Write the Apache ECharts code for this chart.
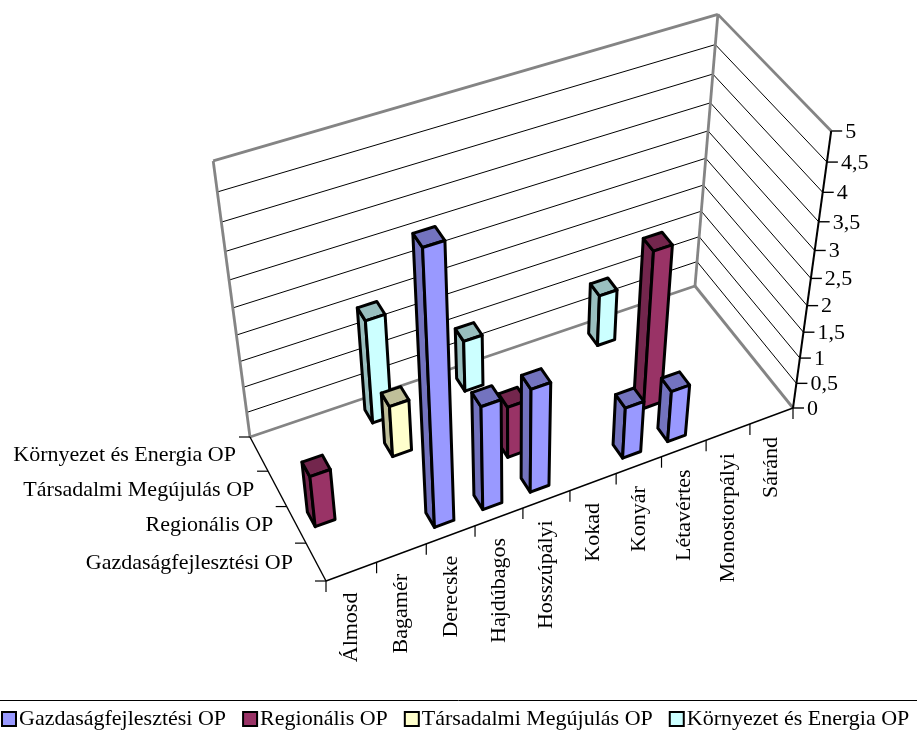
<!DOCTYPE html>
<html><head><meta charset="utf-8">
<style>html,body{margin:0;padding:0;background:#fff}#c{width:917px;height:731px}</style>
<script src="https://cdn.jsdelivr.net/npm/echarts@6/dist/echarts.min.js"></script>
</head><body><div id="c"></div>
<script>
const categories = ['Álmosd','Bagamér','Derecske','Hajdúbagos','Hosszúpályi','Kokad','Konyár','Létavértes','Monostorpályi','Sáránd'];
const seriesNames = ['Gazdaságfejlesztési OP','Regionális OP','Társadalmi Megújulás OP','Környezet és Energia OP'];
const gazdasag  = [0,0,5,2,2,0,1,1,0,0];
const regionalis= [1,0,0,0,1,0,0,3,0,0];
const tarsadalmi= [0,0,1,0,0,0,0,0,0,0];
const kornyezet = [0,0,2,0,1,0,0,1,0,0];
const seriesValues = [gazdasag,regionalis,tarsadalmi,kornyezet];
const valueTicks = ['0','0,5','1','1,5','2','2,5','3','3,5','4','4,5','5'];
const frontColors = ['#9999FF','#993366','#FFFFCC','#CCFFFF'];
const sideColors  = ['#7373BF','#73264D','#BFBF99','#99BFBF'];
const FONT = '22px "Liberation Serif"';

// Perspective camera of the 3D plot, fitted on the floor corners and the vertical vanishing point
const floor = {fl:[326,581], fr:[793,408], br:[695,286], bl:[250,437]};
function quadH(p00,p10,p11,p01){
  const [x0,y0]=p00,[x1,y1]=p10,[x2,y2]=p11,[x3,y3]=p01;
  const dx1=x1-x2,dx2=x3-x2,sx=x0-x1+x2-x3,dy1=y1-y2,dy2=y3-y2,sy=y0-y1+y2-y3;
  const d=dx1*dy2-dx2*dy1;
  const g=(sx*dy2-dx2*sy)/d,h=(dx1*sy-sx*dy1)/d;
  return [x1-x0+g*x1,x3-x0+h*x3,x0, y1-y0+g*y1,y3-y0+h*y3,y0, g,h,1];
}
const H = quadH(floor.fl,floor.fr,floor.br,floor.bl);
const VP = [515,2425];
const W10 = H[6]+H[8];
const C = (131-408)*W10/(VP[1]-131);
function P(u,v,val){
  const t=val/5*C*(1-v*(0.012-0.005*u));
  const X=H[0]*u+H[1]*v+H[2]+t*VP[0], Y=H[3]*u+H[4]*v+H[5]+t*VP[1], W=H[6]*u+H[7]*v+H[8]+t;
  return [X/W,Y/W];
}
const nC=categories.length, nS=seriesNames.length, SIZE=0.4;

function line(a,b,color,w){return {type:'line',shape:{x1:a[0],y1:a[1],x2:b[0],y2:b[1]},style:{stroke:color,lineWidth:w}};}
function txt(p,s,align,extra){return Object.assign({type:'text',x:p[0],y:p[1],style:{x:0,y:0,text:s,font:FONT,fill:'#000',align:align,verticalAlign:'middle'}},extra||{});}

function renderFrame(){
  const ch=[];
  const gray='#848484';
  for(let i=1;i<valueTicks.length-1;i++){
    const val=i*0.5;
    ch.push(line(P(0,1,val),P(1,1,val),'#000',1));
    ch.push(line(P(1,1,val),P(1,0,val),'#000',1));
  }
  [[P(0,1,0),P(1,1,0)],[P(1,1,0),P(1,0,0)],[P(0,1,0),P(0,1,5)],[P(1,1,0),P(1,1,5)],[P(0,1,5),P(1,1,5)],[P(1,1,5),P(1,0,5)]]
    .forEach(s=>ch.push(line(s[0],s[1],gray,2.8)));
  // axes
  ch.push(line(P(1,0,0),P(1,0,5),'#000',2));
  ch.push(line(P(0,0,0),P(1,0,0),'#000',1.4));
  ch.push(line(P(0,0,0),P(0,1,0),'#000',1.4));
  valueTicks.forEach((s,i)=>{
    const p=P(1,0,i*0.5);
    ch.push(line(p,[p[0]+11,p[1]],'#000',1.4));
    ch.push(txt([p[0]+14,p[1]+1],s,'left'));
  });
  for(let i=0;i<=nC;i++){
    const p=P(i/nC,0,0);
    ch.push(line(p,[p[0],p[1]+11],'#000',1.2));
  }
  categories.forEach((s,i)=>{
    const p=P((i+0.5)/nC,0,0);
    ch.push(txt([p[0],p[1]+21],s,'right',{rotation:Math.PI/2}));
  });
  for(let i=0;i<=nS;i++){
    const p=P(0,i/nS,0);
    ch.push(line(p,[p[0]-11,p[1]],'#000',1.2));
  }
  seriesNames.forEach((s,i)=>{
    const p=P(0,(i+0.5)/nS,0);
    ch.push(txt([p[0]-23,p[1]+1],s,'right'));
  });
  return {type:'group',children:ch};
}

function renderBar(si){
  return function(params,api){
    const c=api.value(0), val=api.value(1);
    const u0=(c+0.5-SIZE/2)/nC,u1=(c+0.5+SIZE/2)/nC;
    const v0=(si+0.5-SIZE/2)/nS,v1=(si+0.5+SIZE/2)/nS;
    const a=(u,v,h)=>P(u,v,h);
    const poly=(pts,fill)=>({type:'polygon',shape:{points:pts},style:{fill:fill,stroke:'#000',lineWidth:3,lineJoin:'round'}});
    return {type:'group',children:[
      poly([a(u0,v1,0),a(u0,v0,0),a(u0,v0,val),a(u0,v1,val)],sideColors[si]),
      poly([a(u0,v0,val),a(u1,v0,val),a(u1,v1,val),a(u0,v1,val)],sideColors[si]),
      poly([a(u0,v0,0),a(u1,v0,0),a(u1,v0,val),a(u0,v0,val)],frontColors[si])
    ]};
  };
}

const series=[{type:'custom',name:'frame',coordinateSystem:'none',silent:true,z:1,data:[[0]],renderItem:renderFrame}];
for(let si=nS-1;si>=0;si--){
  const rows=[];
  seriesValues[si].forEach((v,i)=>{if(v>0)rows.unshift([i,v]);});
  series.push({type:'custom',name:seriesNames[si],coordinateSystem:'none',silent:true,z:10+nS-si,
    itemStyle:{color:frontColors[si]},data:rows,renderItem:renderBar(si)});
}
const chart=echarts.init(document.getElementById('c'),null,{renderer:'canvas'});
chart.setOption({
  animation:false,
  backgroundColor:'#fff',
  legend:{data:seriesNames,left:1,top:708,width:1200,orient:'horizontal',icon:'rect',itemWidth:14,itemHeight:14,itemGap:16,padding:0,
    selectedMode:false,textStyle:{fontFamily:'Liberation Serif',fontSize:22,color:'#000',padding:[0,0,0,-2]},
    itemStyle:{borderColor:'#000',borderWidth:2}},
  graphic:[{type:'line',shape:{x1:0,y1:700.5,x2:917,y2:700.5},style:{stroke:'#000',lineWidth:1}}],
  series:series
});
</script></body></html>
